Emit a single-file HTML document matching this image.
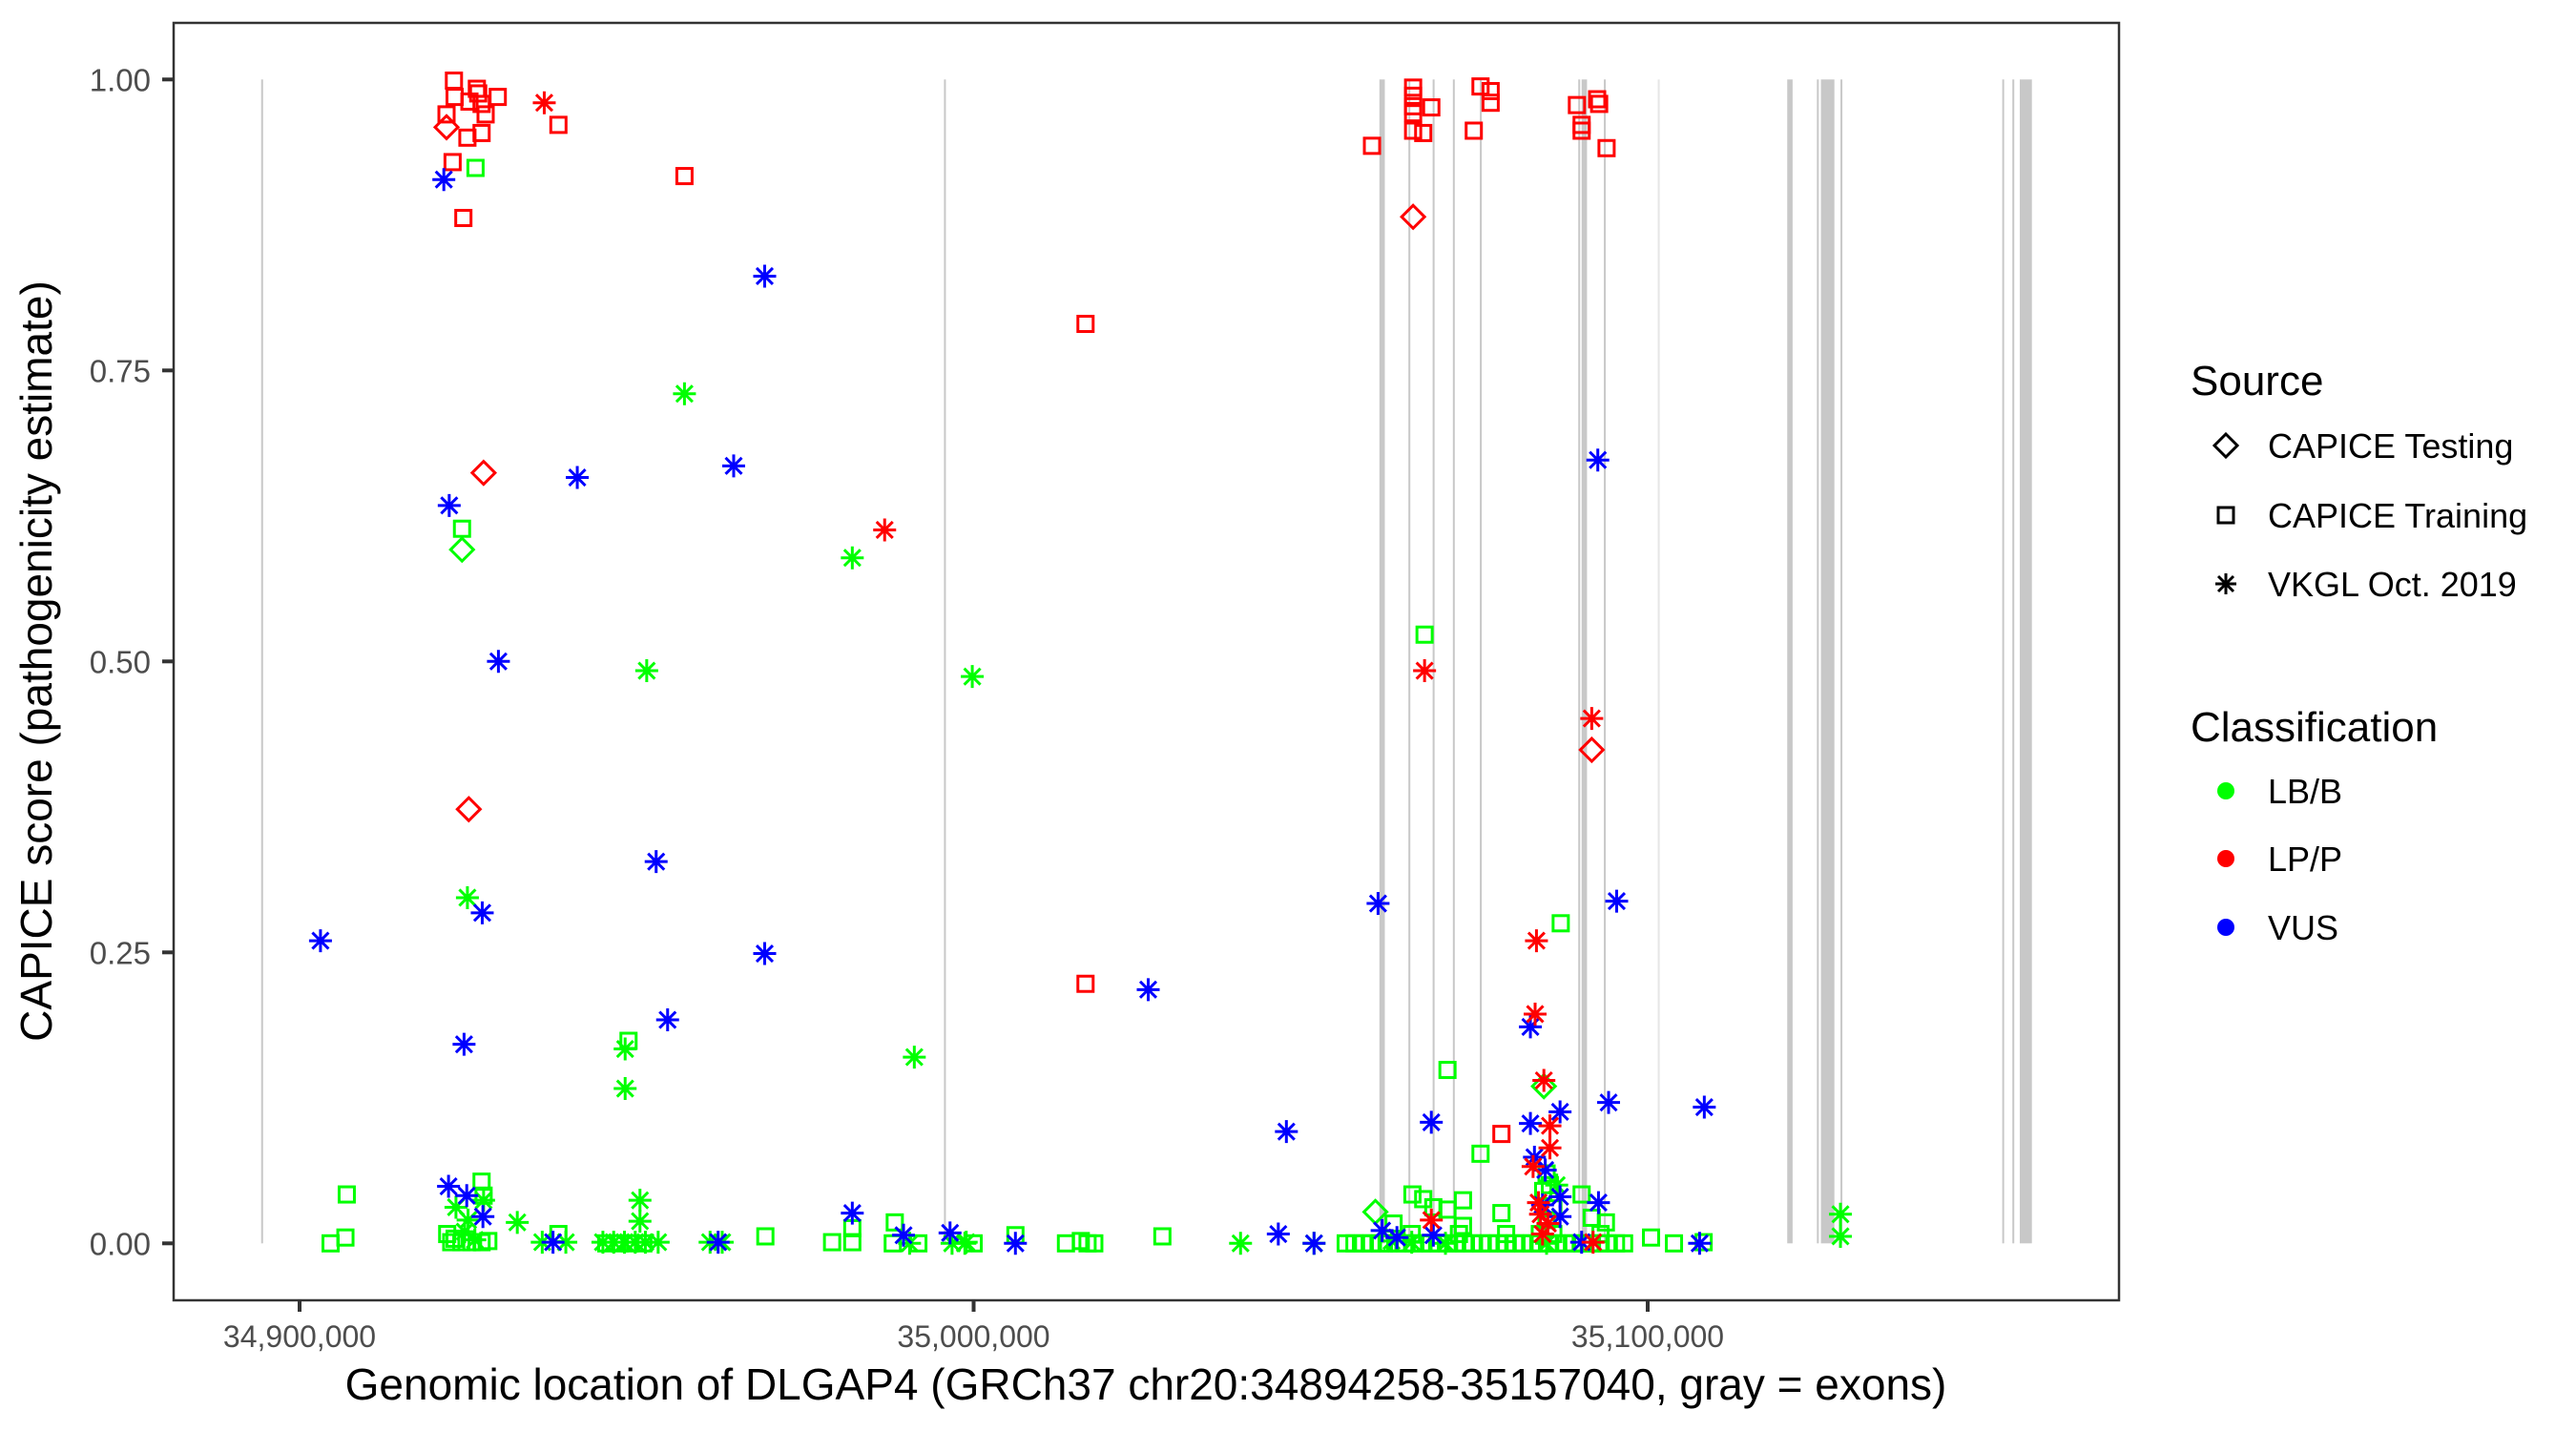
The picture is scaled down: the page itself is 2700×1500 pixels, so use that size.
<!DOCTYPE html>
<html><head><meta charset="utf-8"><title>DLGAP4 CAPICE scores</title>
<style>html,body{margin:0;padding:0;background:#fff}svg{display:block}text{font-family:"Liberation Sans",Arial,sans-serif}</style>
</head><body>
<svg id="chart" xmlns="http://www.w3.org/2000/svg" width="2700" height="1500" viewBox="0 0 2700 1500">
<rect x="0" y="0" width="2700" height="1500" fill="#fff"/>
<g id="exons"></g>
<g id="points"></g>
<rect x="182" y="24" width="2039" height="1339" fill="none" stroke="#333" stroke-width="2.5"/>
<g id="axes"></g>
<text x="1201" y="1467" font-size="46" text-anchor="middle" fill="#000">Genomic location of DLGAP4 (GRCh37 chr20:34894258-35157040, gray = exons)</text>
<text transform="translate(54,693) rotate(-90)" font-size="46" text-anchor="middle" fill="#000">CAPICE score (pathogenicity estimate)</text>
<g>
<text x="2296" y="414" font-size="44" fill="#000">Source</text>
<g>
<path d="M2333,455 L2345,467 L2333,479 L2321,467 Z" fill="none" stroke="#000" stroke-width="3"/>
<text x="2377" y="480" font-size="36" fill="#000">CAPICE Testing</text></g>
<g>
<rect x="2325" y="532" width="16" height="16" fill="none" stroke="#000" stroke-width="3"/>
<text x="2377" y="553" font-size="36" fill="#000">CAPICE Training</text></g>
<g>
<path d="M2333,601 V623 M2322,612 H2344 M2325,604 L2341,620 M2325,620 L2341,604" stroke="#000" stroke-width="3"/>
<text x="2377" y="625" font-size="36" fill="#000">VKGL Oct. 2019</text></g>
<text x="2296" y="777" font-size="44" fill="#000">Classification</text>
<g><circle cx="2333" cy="829" r="9" fill="#00ff00"/><text x="2377" y="842" font-size="36" fill="#000">LB/B</text></g>
<g><circle cx="2333" cy="900" r="9" fill="#ff0000"/><text x="2377" y="913" font-size="36" fill="#000">LP/P</text></g>
<g><circle cx="2333" cy="972" r="9" fill="#0000ff"/><text x="2377" y="985" font-size="36" fill="#000">VUS</text></g>
</g>
</svg>
<script>
// ---- data (genomic position in kb, CAPICE score) ----
const xTicks = [34900, 35000, 35100];
const xTickLabels = ["34,900,000", "35,000,000", "35,100,000"];
const yTicks = [0, 0.25, 0.5, 0.75, 1];
const yTickLabels = ["0.00", "0.25", "0.50", "0.75", "1.00"];
const exonStart = [34894.3, 34995.6, 35060.2, 35064.5, 35068.1, 35071.1, 35075.1, 35089.7, 35090.2, 35093.5, 35101.5, 35120.7, 35125.1, 35125.7, 35128.6, 35152.6, 35154.1, 35155.2];
const exonEnd   = [34894.5, 34995.8, 35061.0, 35064.7, 35068.3, 35071.3, 35075.3, 35089.9, 35091.0, 35093.7, 35101.7, 35121.5, 35125.3, 35127.7, 35128.8, 35152.8, 35154.3, 35157.0];

const sqLBPos = [34924.1,34926.1,34904.6,34906.8,34907.0,34948.8,34927.0,34927.3,34921.9,34922.5,34924.0,34925.5,34927.0,34928.0,34923.0,34938.4,34945.5,34947.5,34949.0,34951.0,34969.1,34979.0,34982.0,34982.0,34988.3,34988.0,34991.8,35000.0,35006.2,35013.7,35015.9,35016.9,35017.9,35028.0,35066.9,35087.1,35070.3,35075.2,35085.5,35065.1,35066.7,35090.2,35072.6,35068.2,35070.3,35078.3,35091.7,35093.8,35072.6,35062.3,35100.5,35103.9,35108.3,35085.0,35084.5,35086.0,35085.0,
35055.2,35056.5,35057.8,35059.0,35060.3,35061.5,35062.8,35064.0,35065.3,35066.5,35067.8,35069.0,35070.3,35071.5,35072.8,35074.0,35075.3,35076.5,35077.8,35079.0,35080.3,35081.5,35082.8,35084.0,35085.3,35086.5,35087.8,35089.0,35090.3,35091.5,35092.8,35094.0,35095.3,35096.5,35065.0,35072.0,35079.0,35084.0,35086.0,35093.0];
const sqLBScore = [0.614,0.924,0.0,0.005,0.042,0.174,0.053,0.041,0.008,0.001,0.001,0.001,0.001,0.002,0.004,0.008,0.0,0.0,0.0,0.0,0.006,0.001,0.001,0.013,0.018,0.0,0.0,0.0,0.007,0.0,0.002,0.0,0.0,0.006,0.523,0.275,0.149,0.077,0.050,0.042,0.038,0.042,0.037,0.031,0.029,0.026,0.022,0.018,0.015,0.017,0.005,0.0,0.001,0.060,0.045,0.030,0.020,
0,0,0,0,0,0,0,0,0,0,0,0,0,0,0,0,0,0,0,0,0,0,0,0,0,0,0,0,0,0,0,0,0,0,0.008,0.008,0.008,0.008,0.008,0.008];
const sqLPPos = [34922.9,34923.0,34926.3,34926.5,34929.4,34925.2,34927.0,34927.6,34921.8,34924.9,34927.0,34922.7,34924.3,34938.4,34957.1,35016.6,35016.6,35065.2,35065.2,35065.2,35065.2,35067.9,35065.2,35066.7,35059.1,35075.2,35076.7,35076.7,35074.2,35089.5,35092.5,35092.8,35090.2,35090.2,35093.9,35078.3];
const sqLPScore = [0.999,0.985,0.992,0.988,0.985,0.981,0.979,0.970,0.970,0.950,0.954,0.929,0.881,0.961,0.917,0.790,0.223,0.993,0.986,0.977,0.971,0.976,0.956,0.954,0.943,0.994,0.990,0.980,0.956,0.978,0.983,0.979,0.961,0.956,0.941,0.094];
const diaLBPos = [34924.1,35059.6,35084.6];
const diaLBScore = [0.596,0.027,0.135];
const diaLPPos = [34921.8,34927.3,34925.1,35065.2,35091.7];
const diaLPScore = [0.959,0.662,0.373,0.882,0.424];
const astLBPos = [34957.1,34982.0,34951.5,34999.8,34948.3,34948.3,34991.2,34924.9,34927.3,34923.2,34932.3,34950.5,34950.5,34936.0,34939.5,34945.0,34946.6,34948.2,34949.8,34951.3,34953.2,34960.9,34962.7,34990.5,34996.8,34998.7,34998.9,35039.6,35050.5,35128.6,35128.6,34924.5,34926.0,34925.0,35062.0,35065.0,35070.0,35085.0,35086.5];
const astLBScore = [0.730,0.589,0.492,0.487,0.167,0.133,0.160,0.297,0.037,0.031,0.018,0.037,0.019,0.001,0.001,0.001,0.001,0.001,0.001,0.001,0.001,0.001,0.001,0.0,0.0,0.0,0.001,0.0,0.0,0.025,0.006,0.010,0.003,0.020,0.002,0.001,0.0,0.0,0.050];
const astVUSPos = [34903.1,34922.2,34929.5,34927.1,34924.4,34921.4,34941.2,34969.0,34964.4,34952.9,34969.0,34954.6,35025.9,35046.4,34922.1,34924.8,34927.2,34937.6,34962.1,34982.0,34989.6,34996.5,35006.2,35045.2,35092.6,35095.4,35060.0,35082.6,35094.2,35108.4,35067.9,35082.6,35087.0,35083.2,35084.8,35087.0,35092.7,35084.4,35087.0,35060.6,35062.8,35068.2,35090.2,35107.7,35050.5];
const astVUSScore = [0.260,0.634,0.500,0.284,0.171,0.914,0.658,0.831,0.668,0.328,0.249,0.192,0.218,0.096,0.049,0.041,0.023,0.001,0.001,0.026,0.007,0.009,0.0,0.008,0.673,0.294,0.292,0.186,0.121,0.117,0.104,0.103,0.113,0.074,0.063,0.040,0.035,0.033,0.023,0.011,0.005,0.007,0.001,0.0,0.0];
const astLPPos = [34936.3,34986.8,35066.9,35091.7,35083.5,35083.3,35084.6,35085.5,35085.5,35083.0,35067.9,35084.1,35085.2,35084.4,35091.9,35083.8];
const astLPScore = [0.980,0.613,0.492,0.451,0.260,0.197,0.140,0.101,0.082,0.066,0.020,0.025,0.017,0.008,0.001,0.035];

// ---- scales ----
function X(kb){ return 314 + (kb - 34900) * 7.065; }
function Y(s){ return 1303.3 - s * 1220; }
const NS = "http://www.w3.org/2000/svg";
function mk(tag, attrs, parent){ const e = document.createElementNS(NS, tag); for (const k in attrs) e.setAttribute(k, attrs[k]); parent.appendChild(e); return e; }

// exons
const gEx = document.getElementById('exons');
exonStart.forEach((s, i) => {
  const x0 = X(s), w = Math.max(2, X(exonEnd[i]) - x0);
  const r = mk('rect', {x: x0, y: Y(1), width: w, height: Y(0) - Y(1), fill: s > 35101 && s < 35102 ? '#e6e6e6' : '#c8c8c8'}, gEx);
  
  
});

// axes
const gAx = document.getElementById('axes');
xTicks.forEach((t, i) => {
  const x = X(t);
  const l = mk('line', {x1: x, x2: x, y1: 1363, y2: 1375, stroke: '#333', 'stroke-width': 4}, gAx);
  
  
  const tx = mk('text', {x: x, y: 1412, 'font-size': 32, 'text-anchor': 'middle', fill: '#4d4d4d'}, gAx);
  tx.textContent = xTickLabels[i];
  
  
});
yTicks.forEach((t, i) => {
  const y = Y(t);
  const l = mk('line', {x1: 170, x2: 182, y1: y, y2: y, stroke: '#333', 'stroke-width': 4}, gAx);
  
  
  const tx = mk('text', {x: 158, y: y + 12, 'font-size': 33, 'text-anchor': 'end', fill: '#4d4d4d'}, gAx);
  tx.textContent = yTickLabels[i];
  
  
});

// points
const gP = document.getElementById('points');
const COL = {LB: '#00ff00', LP: '#ff0000', VUS: '#0000ff'};
function square(x, y, c){ return mk('rect', {x: x - 8, y: y - 8, width: 16, height: 16, fill: 'none', stroke: c, 'stroke-width': 3}, gP); }
function diamond(x, y, c){ return mk('path', {d: `M${x},${y-12} L${x+12},${y} L${x},${y+12} L${x-12},${y} Z`, fill: 'none', stroke: c, 'stroke-width': 3}, gP); }
function aster(x, y, c){ return mk('path', {d: `M${x},${y-12} V${y+12} M${x-12},${y} H${x+12} M${x-8.5},${y-8.5} L${x+8.5},${y+8.5} M${x-8.5},${y+8.5} L${x+8.5},${y-8.5}`, stroke: c, 'stroke-width': 3, fill: 'none'}, gP); }
function drawSet(pos, score, fn, cls, name){
  pos.forEach((p, i) => {
    const e = fn(X(p), Y(score[i]), COL[cls]);
    
    
  });
}
drawSet(sqLBPos, sqLBScore, square, 'LB', 'training-point-lbb');
drawSet(diaLBPos, diaLBScore, diamond, 'LB', 'testing-point-lbb');
drawSet(astLBPos, astLBScore, aster, 'LB', 'vkgl-point-lbb');
drawSet(sqLPPos, sqLPScore, square, 'LP', 'training-point-lpp');
drawSet(diaLPPos, diaLPScore, diamond, 'LP', 'testing-point-lpp');
drawSet(astVUSPos, astVUSScore, aster, 'VUS', 'vkgl-point-vus');
drawSet(astLPPos, astLPScore, aster, 'LP', 'vkgl-point-lpp');
</script>
</body></html>
